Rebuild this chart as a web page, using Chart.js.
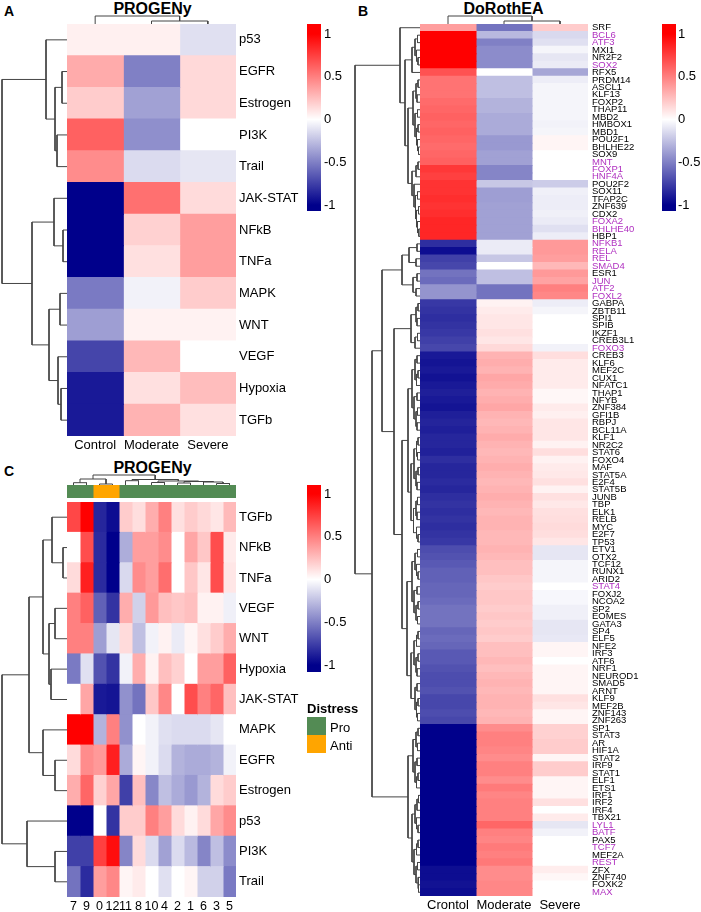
<!DOCTYPE html>
<html><head><meta charset="utf-8">
<script src="https://cdn.jsdelivr.net/npm/chart.js@4.4.1/dist/chart.umd.min.js"></script>
<style>
html,body{margin:0;padding:0;background:#fff;}
#root{position:relative;width:701px;height:912px;overflow:hidden;font-family:"Liberation Sans",Arial,sans-serif;}
canvas{position:absolute;}
.t{position:absolute;white-space:nowrap;color:#000;line-height:1;}
.b{font-weight:bold;}
.box{position:absolute;}
</style></head><body><div id="root"></div>
<script>
// ---------------- DATA ----------------
// Panel A (PROGENy, by severity)
const aRows = ['p53','EGFR','Estrogen','PI3K','Trail','JAK-STAT','NFkB','TNFa','MAPK','WNT','VEGF','Hypoxia','TGFb'];
const aCols = ['Control','Moderate','Severe'];
const aControl  = [0.06, 0.33, 0.2, 0.62, 0.45, -1.0, -1.0, -1.0, -0.52, -0.38, -0.73, -0.9, -0.9];
const aModerate = [0.06, -0.5, -0.37, -0.44, -0.14, 0.56, 0.18, 0.12, -0.05, 0.05, 0.28, 0.12, 0.3];
const aSevere   = [-0.12, 0.15, 0.15, 0.0, -0.1, 0.14, 0.38, 0.38, 0.2, 0.05, 0.0, 0.26, 0.12];
// dendrogram merges [height, left, right] (leaf = row index)
const aRowTree = [65, [21, 0, [12, [5, 1, 2], [10, 3, 4]]], [35, [13, 5, [4, 6, 7]], [18, [7, 8, 9], [9, 10, [6, 11, 12]]]]];
const aColTree = [8, 0, [3, 1, 2]];

// Panel B (DoRothEA)
const bRows = ['SRF','BCL6','ATF3','MXI1','NR2F2','SOX2','RFX5','PRDM14','ASCL1','KLF13','FOXP2','THAP11','MBD2','HMBOX1','MBD1','POU2F1','BHLHE22','SOX9','MNT','FOXP1','HNF4A','POU2F2','SOX11','TFAP2C','ZNF639','CDX2','FOXA2','BHLHE40','HBP1','NFKB1','RELA','REL','SMAD4','ESR1','JUN','ATF2','FOXL2','GABPA','ZBTB11','SPI1','SPIB','IKZF1','CREB3L1','FOXO3','CREB3','KLF6','MEF2C','CUX1','NFATC1','THAP1','NFYB','ZNF384','GFI1B','RBPJ','BCL11A','KLF1','NR2C2','STAT6','FOXO4','MAF','STAT5A','E2F4','STAT5B','JUNB','TBP','ELK1','RELB','MYC','E2F7','TP53','ETV1','OTX2','TCF12','RUNX1','ARID2','STAT4','FOXJ2','NCOA2','SP2','EOMES','GATA3','SP4','ELF5','NFE2','IRF3','ATF6','NRF1','NEUROD1','SMAD5','ARNT','KLF9','MEF2B','ZNF143','ZNF263','SP1','STAT3','AR','HIF1A','STAT2','IRF9','STAT1','ELF1','ETS1','IRF1','IRF2','IRF4','TBX21','LYL1','BATF','PAX5','TCF7','MEF2A','REST','ZFX','ZNF740','FOXK2','MAX'];
const bCols = ['Crontol','Moderate','Severe'];
const bHighlight = ['BCL6','ATF3','SOX2','MNT','FOXP1','HNF4A','FOXA2','BHLHE40','NFKB1','RELA','REL','SMAD4','JUN','ATF2','FOXL2','FOXO3','STAT4','LYL1','BATF','TCF7','REST','MAX'];
const bControl = [
 0.38, 1.0, 1.0, 1.0, 1.0, 1.0, 0.68, 0.55, 0.55, 0.55, 0.58, 0.6, 0.62, 0.6, 0.62, 0.6, 0.58, 0.6, 0.62, 0.78, 0.75, 0.8, 0.8, 0.82, 0.8, 0.82, 0.85, 0.85, 0.85,
 -0.82, -0.95, -0.75, -0.72, -0.55, -0.58, -0.42, -0.42,
 -0.78, -0.8, -0.82, -0.8, -0.78, -0.75, -0.72,
 -0.9, -0.92, -0.9, -0.93, -0.9, -0.88, -0.9, -0.92, -0.88, -0.86, -0.88, -0.85, -0.85, -0.87, -0.82, -0.85, -0.85, -0.83, -0.85, -0.82, -0.8, -0.82, -0.8, -0.82, -0.8, -0.78,
 -0.7, -0.68, -0.65, -0.62, -0.62, -0.6, -0.6, -0.58, -0.55, -0.55, -0.55, -0.6, -0.58, -0.6, -0.65, -0.65, -0.68, -0.7, -0.7, -0.68, -0.72, -0.72, -0.7, -0.72,
 -1, -1, -1, -1, -1, -1, -1, -1, -1, -1, -1, -1, -1, -1, -1, -1, -1, -1, -1, -0.95, -0.95, -0.93, -0.95];
const bModerate = [
 -0.55, -0.28, -0.5, -0.45, -0.45, -0.45, 0.0, -0.25, -0.25, -0.25, -0.3, -0.3, -0.33, -0.33, -0.33, -0.4, -0.4, -0.37, -0.37, -0.48, -0.48, -0.22, -0.38, -0.38, -0.37, -0.37, -0.37, -0.37, -0.37,
 -0.08, -0.08, -0.22, 0.0, -0.25, -0.25, -0.55, -0.55,
 0.05, 0.08, 0.1, 0.1, 0.12, 0.1, 0.15,
 0.3, 0.32, 0.3, 0.35, 0.33, 0.3, 0.32, 0.35, 0.3, 0.28, 0.3, 0.33, 0.3, 0.28, 0.3, 0.32, 0.3, 0.28, 0.3, 0.32, 0.3, 0.28, 0.3, 0.3, 0.28, 0.28,
 0.3, 0.28, 0.25, 0.25, 0.22, 0.2, 0.22, 0.22, 0.2, 0.22, 0.2, 0.22, 0.2, 0.25, 0.25, 0.28, 0.25, 0.28, 0.3, 0.28, 0.3, 0.3, 0.28, 0.3,
 0.45, 0.5, 0.5, 0.48, 0.45, 0.5, 0.5, 0.45, 0.52, 0.48, 0.5, 0.5, 0.5, 0.6, 0.5, 0.48, 0.52, 0.5, 0.53, 0.45, 0.45, 0.47, 0.47];
const bSevere = [
 0.2, -0.15, -0.12, -0.04, -0.1, -0.08, -0.35, -0.07, -0.04, -0.04, -0.04, -0.04, -0.04, -0.05, -0.04, 0.04, 0.04, 0.0, 0.0, 0.0, 0.0, -0.2, -0.06, -0.07, -0.07, -0.06, -0.08, -0.12, -0.07,
 0.4, 0.4, 0.38, 0.28, 0.4, 0.36, 0.5, 0.47,
 -0.07, -0.04, 0, 0, 0, 0, -0.05,
 0.13, 0.08, 0.08, 0.08, 0.08, 0.03, 0.03, 0.08, 0.06, 0.1, 0.1, 0.1, 0.05, 0.13, 0.05, 0.08, 0.09, 0.12, 0.05, 0.12, 0.09, 0.12, 0.13, 0.14, 0.13, 0.1,
 -0.1, -0.1, -0.04, -0.04, -0.04, 0, -0.03, -0.03, -0.06, -0.06, -0.1, -0.1, -0.09, 0.04, 0.04, 0, 0.04, 0.04, 0.04, 0.04, 0.12, 0.1, 0.04, 0.04,
 0.18, 0.18, 0.2, 0.2, 0.04, 0.2, 0.2, 0.04, 0.04, 0.04, 0.12, 0, 0.08, -0.1, -0.05, 0, 0, 0, 0, 0.07, 0.03, 0, 0];
const bTreeC1 = [20, 0, [15, [8, [5, [2.5, 1, 2], [3.5, 3, [2, 4, 5]]], 6],
  [12, [7, [4, [2, 7, 8], [3, 9, 10]], [5, [2.5, 11, 12], [3.5, [2, 13, 14], [2.5, 15, [1.5, 16, 17]]]]],
       [8, [4, [2, 18, 19], 20], [6, 21, [4.5, [2.5, 22, 23], [3.5, [1.5, 24, 25], [2.5, 26, [1.2, 27, 28]]]]]]]]];
const bTreeC2 = [18, [11, [3, 29, 30], [4, 31, 32]], [7, [3, 33, 34], [4, 35, 36]]];
const bTreeC3a = [9, [4, [2, 37, 38], [3, 39, 40]], [5, [2.5, 41, 42], 43]];
const bTreeC3b = [12, [8, [5, [3, 44, 45], [3.5, [2, 46, 47], 48]], [6, [3, 49, 50], [4, [2.5, 51, 52], [3, 53, 54]]]],
  [9, [6, [3.5, [2, 55, 56], [2.5, 57, 58]], [4, [2, 59, 60], [3, 61, 62]]], [6.5, [4, [2.5, 63, 64], [3, 65, 66]], [3.5, 67, [2, 68, 69]]]]];
const bTreeC3c = [13, [8, [5, [2.5, 70, 71], [3.5, 72, [2, 73, 74]]], [6, [3, 75, 76], [4, [2, 77, 78], [2.5, 79, 80]]]],
  [9, [6, [3.5, [2, 81, 82], 83], [4, [2, 84, 85], [3, 86, 87]]], [5, [3, 88, 89], [3.5, [2, 90, 91], [2.5, 92, 93]]]]];
const bTreeC4 = [12, [7, [4, [2, 94, 95], [2.5, 96, 97]], [5, [3, 98, 99], [3.5, [2, 100, 101], 102]]],
  [8, [5, [3, [1.5, 103, 104], 105], [3.5, 106, [2, 107, 108]]], [6, [3.5, [2, 109, 110], 111], [4, [2.5, 112, 113], [2, 114, [1.5, 115, 116]]]]]];
const bRowTree = [65, bTreeC1, [48, [38, bTreeC2, [26, bTreeC3a, [18, bTreeC3b, bTreeC3c]]], bTreeC4]];
const bColTree = [8, 0, [3, 1, 2]];

// Panel C (PROGENy, by cluster)
const cRows = ['TGFb','NFkB','TNFa','VEGF','WNT','Hypoxia','JAK-STAT','MAPK','EGFR','Estrogen','p53','PI3K','Trail'];
const cCols = ['7','9','0','12','11','8','10','4','2','1','6','3','5'];
const cGroups = ['Pro','Pro','Anti','Anti','Pro','Pro','Pro','Pro','Pro','Pro','Pro','Pro','Pro'];
const cValues = [
 [0.72, 1.0, -0.85, -0.95, 0.2, 0.13, 0.32, 0.5, 0.12, 0.2, 0.15, 0.1, 0.27],
 [0.0, 0.7, -0.83, -1.0, -0.32, 0.38, 0.38, 0.45, 0.0, 0.35, 0.22, 0.7, 0.08],
 [0.14, 0.88, -0.83, -1.0, -0.15, 0.45, 0.38, 0.57, 0.0, 0.22, 0.1, 0.7, 0.1],
 [0.5, 0.62, -0.62, -0.8, 0.32, -0.18, 0.4, 0.25, 0.22, 0.25, 0.05, 0.05, -0.06],
 [0.5, 0.5, -0.38, -0.1, 0.14, -0.25, -0.05, 0.05, -0.08, 0.04, 0.12, 0.2, 0.32],
 [-0.52, -0.12, -0.68, -0.8, -0.05, 0.32, 0.05, 0.25, 0.18, 0.0, 0.38, 0.38, 0.62],
 [0.0, 0.35, -0.9, -0.92, -0.43, -0.55, 0.22, 0.47, 0.0, 0.7, 0.5, 0.6, 0.25],
 [1.0, 1.0, -0.3, 0.5, -0.43, 0.0, -0.05, -0.12, -0.14, -0.14, -0.14, -0.1, 0.0],
 [0.14, 0.45, 0.4, 0.88, -0.33, 0.04, -0.05, -0.14, -0.3, -0.33, -0.33, -0.3, -0.05],
 [0.32, 0.6, 0.18, 0.35, -0.75, 0.25, -0.47, -0.25, -0.33, -0.4, -0.3, 0.14, 0.2],
 [-1.0, -1.0, 0.0, -0.8, 0.2, 0.2, 0.5, 0.38, 0.14, 0.05, 0.14, 0.35, 0.45],
 [-0.75, -0.75, 0.75, 0.95, -0.48, 0.14, -0.14, -0.37, -0.14, -0.27, -0.48, -0.25, -0.45],
 [-0.55, -0.83, 0.38, 0.47, 0.04, 0.08, 0.0, -0.12, 0.0, 0.04, -0.18, -0.18, -0.52]
];
const cRowTree = [65, [38, [24, [15, 0, [4, 1, 2]], [18, [12, 3, 4], [16, 5, 6]]], [24, 7, [12, 8, 9]]], [40, 10, [12, 11, 12]]];
const cColTree = [10, [6, [2.3, 0, 1], [1, 2, 3]], [5.5, [4.3, 4, 5], [4, [2.5, 6, 7], [3.5, [2, 8, 9], [3, 10, [1.5, 11, 12]]]]]];
const legendTicks = [-1, -0.5, 0, 0.5, 1];
const groupColors = {Pro: '#538b54', Anti: '#ffa500'};

// ---------------- checks ----------------
[[aControl,13],[aModerate,13],[aSevere,13],[bControl,117],[bModerate,117],[bSevere,117],[bRows,117]].forEach(([a,n],i)=>{ if(a.length!==n) throw new Error('length mismatch '+i+': '+a.length); });
cValues.forEach((r,i)=>{ if(r.length!==13) throw new Error('c row '+i); });

// ---------------- DRAWING ----------------
const FONT = "'Liberation Sans', Arial, sans-serif";
Chart.defaults.font.family = FONT;
Chart.defaults.color = '#000';
const root = document.getElementById('root');

function heatColor(v){
  v = Math.max(-1, Math.min(1, v));
  let r, g, b;
  if (v >= 0){ r = 255; g = Math.round(255*(1-v)); b = g; }
  else { const t = -v; r = Math.round(255*(1-t)); g = r; b = Math.round(255 - (255-139)*t); }
  return 'rgb('+r+','+g+','+b+')';
}
function makeCanvas(x, y, w, h){
  const c = document.createElement('canvas');
  c.width = w; c.height = h;
  c.style.left = x+'px'; c.style.top = y+'px'; c.style.width = w+'px'; c.style.height = h+'px';
  root.appendChild(c);
  return c;
}
function text(str, x, y, size, bold, center){
  const d = document.createElement('div');
  d.className = 't' + (bold ? ' b' : '');
  d.textContent = str;
  d.style.left = x+'px'; d.style.top = y+'px'; d.style.fontSize = size+'px';
  if (center) d.style.transform = 'translateX(-50%)';
  root.appendChild(d);
}
const baseOpts = {responsive:false, animation:false, events:[], layout:{padding:0},
  plugins:{legend:{display:false}, tooltip:{enabled:false}}};

function drawHeatmap(o){
  const cv = makeCanvas(o.x, o.y, o.w + o.rowLabelW, o.h + o.colLabelH);
  const datasets = o.cols.map((col, c) => ({
    label: col,
    data: o.rows.map(() => [c, c+1]),
    backgroundColor: o.rows.map((_, r) => o.colorOf(r, c)),
    grouped:false, barPercentage:1, categoryPercentage:1, borderWidth:0, inflateAmount:0.5
  }));
  new Chart(cv, {type:'bar', data:{labels:o.rows, datasets},
    options: Object.assign({}, baseOpts, {indexAxis:'y', scales:{
      y:{type:'category', position:'right', offset:true, grid:{display:false, drawTicks:false}, border:{display:false},
         ticks:{display:o.showRowLabels !== false, autoSkip:false, padding:o.rowPad, font:o.rowFont, color:(ctx)=> o.rowColor ? o.rowColor(ctx.index) : '#000'},
         afterFit(s){ s.width = o.rowLabelW; s.paddingTop = 0; s.paddingBottom = 0; }},
      x:{type:'linear', min:0, max:o.cols.length, position:'bottom', grid:{display:false, drawTicks:false}, border:{display:false},
         afterBuildTicks(s){ s.ticks = o.cols.map((_, i)=>({value:i+0.5})); },
         ticks:{display:o.showColLabels !== false, autoSkip:false, maxRotation:0, minRotation:0, padding:o.colPad, font:o.colFont, color:'#000', callback:(v)=> o.cols[Math.floor(v)]},
         afterFit(s){ s.height = o.colLabelH; s.paddingLeft = 0; s.paddingRight = 0; }}
    }})
  });
}

function drawLegend(x, y, barW, h, lo, hi, labelW, pad){
  const cv = makeCanvas(x, y, barW + labelW, h);
  new Chart(cv, {type:'bar',
    data:{labels:[''], datasets:[{data:[[lo, hi]], barPercentage:1, categoryPercentage:1, borderWidth:0, inflateAmount:0,
      backgroundColor:(ctx)=>{
        const ch = ctx.chart; const ys = ch.scales.y;
        if (!ch.chartArea || !ys) return '#fff';
        const g = ch.ctx.createLinearGradient(0, ys.getPixelForValue(-1), 0, ys.getPixelForValue(1));
        g.addColorStop(0, heatColor(-1)); g.addColorStop(0.5, heatColor(0)); g.addColorStop(1, heatColor(1));
        return g;
      }}]},
    options: Object.assign({}, baseOpts, {scales:{
      x:{display:false, offset:true},
      y:{type:'linear', position:'right', min:lo, max:hi, grid:{display:false, drawTicks:false}, border:{display:false},
         afterBuildTicks(s){ s.ticks = legendTicks.map(v=>({value:v})); },
         ticks:{padding:pad, font:{size:13}, color:'#000', callback:(v)=>String(v)},
         afterFit(s){ s.width = labelW; s.paddingTop = 0; s.paddingBottom = 0; }}
    }})
  });
}

function drawDendro(x, y, w, h, tree, nLeaves, maxH, orient){
  const segs = [];
  (function walk(n){
    if (typeof n === 'number') return {p:n+0.5, h:0};
    const A = walk(n[1]), B = walk(n[2]);
    segs.push([[A.p, A.h], [A.p, n[0]], [B.p, n[0]], [B.p, B.h]]);
    return {p:(A.p+B.p)/2, h:n[0]};
  })(tree);
  const cv = makeCanvas(x, y, w, h);
  const datasets = segs.map(s => ({
    data: s.map(([p, hh]) => orient === 'row' ? {x:hh, y:p} : {x:p, y:hh}),
    showLine:true, pointRadius:0, borderColor:'#444', borderWidth:1, clip:false, tension:0, fill:false
  }));
  const scales = orient === 'row'
    ? {x:{type:'linear', display:false, min:0, max:maxH, reverse:true}, y:{type:'linear', display:false, min:0, max:nLeaves, reverse:true}}
    : {x:{type:'linear', display:false, min:0, max:nLeaves}, y:{type:'linear', display:false, min:0, max:maxH}};
  new Chart(cv, {type:'scatter', data:{datasets}, options:Object.assign({}, baseOpts, {scales})});
}

// ---- Panel A ----
text('A', 4, 4, 14, true);
text('PROGENy', 152.5, 0.5, 16, true, true);
const aVals = [aControl, aModerate, aSevere];
drawDendro(67, 12, 169, 12, aColTree, 3, 12, 'col');
drawDendro(0, 24, 67, 412, aRowTree, 13, 67, 'row');
drawHeatmap({x:67, y:24, w:169, h:412, rowLabelW:70, colLabelH:20, rows:aRows, cols:aCols,
  colorOf:(r,c)=>heatColor(aVals[c][r]), rowFont:{size:13}, colFont:{size:13}, rowPad:3, colPad:2});
drawLegend(307, 24, 14, 187, -1.07, 1.117, 30, 3);

// ---- Panel B ----
text('B', 358, 4, 14, true);
text('DoRothEA', 503.5, 0.5, 16, true, true);
const bVals = [bControl, bModerate, bSevere];
drawDendro(420, 12, 168, 12, bColTree, 3, 12, 'col');
drawDendro(350, 24, 70, 872, bRowTree, 117, 70, 'row');
drawHeatmap({x:420, y:24, w:168, h:872, rowLabelW:60, colLabelH:16, rows:bRows, cols:bCols,
  colorOf:(r,c)=>heatColor(bVals[c][r]), rowFont:{size:9.5}, colFont:{size:13}, rowPad:4, colPad:2,
  rowColor:(i)=> bHighlight.includes(bRows[i]) ? '#b030c0' : '#000'});
drawLegend(662, 24, 14, 187, -1.07, 1.117, 30, 2);

// ---- Panel C ----
text('C', 4, 464, 14, true);
text('PROGENy', 152.5, 459.5, 16, true, true);
drawDendro(67, 473, 169, 12, cColTree, 13, 12, 'col');
drawHeatmap({x:67, y:485, w:169, h:13, rowLabelW:0, colLabelH:0, rows:['Distress'], cols:cCols,
  colorOf:(r,c)=>groupColors[cGroups[c]], rowFont:{size:1}, colFont:{size:1}, rowPad:0, colPad:0,
  showRowLabels:false, showColLabels:false});
drawDendro(0, 502, 67, 395, cRowTree, 13, 67, 'row');
drawHeatmap({x:67, y:502, w:169, h:395, rowLabelW:70, colLabelH:15, rows:cRows, cols:cCols,
  colorOf:(r,c)=>heatColor(cValues[r][c]), rowFont:{size:13}, colFont:{size:12.5}, rowPad:3, colPad:2});
drawLegend(307, 485, 14, 187, -1.082, 1.105, 30, 3);

// Distress legend
text('Distress', 307, 702, 13, true);
[['Pro', 717], ['Anti', 735]].forEach(([g, yy]) => {
  const d = document.createElement('div');
  d.className = 'box';
  d.style.left = '307px'; d.style.top = yy+'px'; d.style.width = '19px'; d.style.height = '18px';
  d.style.background = groupColors[g];
  root.appendChild(d);
  text(g, 330, yy + 4, 13, false);
});
</script>
</body></html>
